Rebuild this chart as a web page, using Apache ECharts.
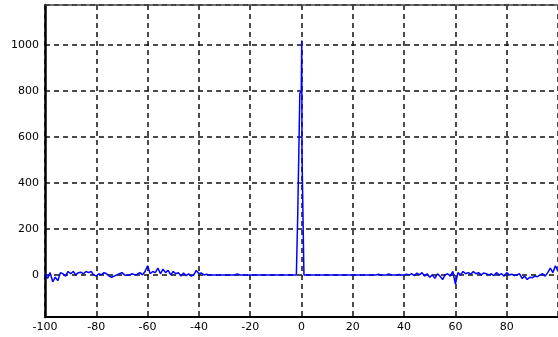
<!DOCTYPE html>
<html>
<head>
<meta charset="utf-8">
<script src="https://cdn.jsdelivr.net/npm/echarts@6/dist/echarts.min.js"></script>
<style>
html,body{margin:0;padding:0;background:#fff;}
#chart{width:558px;height:337px;}
</style>
</head>
<body>
<div id="chart"></div>
<script>
// x-axis tick labels / y-axis tick labels
const xTicks = [-100, -80, -60, -40, -20, 0, 20, 40, 60, 80];
const yTicks = [0, 200, 400, 600, 800, 1000];

// Signal samples, x = -100 .. -3 (step 1)
const leftX = [];
for (let x = -100; x <= -3; x++) leftX.push(x);
const leftY = [
  5, -15, 10, -30, -10, -25, 10, 5, -5, 15,      // -100..-91
  5, 15, 0, 10, 12, 5, 15, 10, 15, 0,            // -90..-81
  -5, 5, 0, 10, 5, -5, -10, -5, 0, 5,            // -80..-71
  10, 0, -2, 0, 5, 0, 3, 10, 0, 15,              // -70..-61
  40, 5, 15, 10, 30, 5, 25, 10, 20, 0,           // -60..-51
  15, 5, 10, -5, 8, -3, 5, -5, 0, 20,            // -50..-41
  5, 8, 0, 3, 0, 0, 0, 0, 0, 0,                  // -40..-31
  0, 0, 0, 0, 0, 4, 0, 0, 0, 0,                  // -30..-21
  0, 0, 0, 0, 0, 0, 0, 0, 0, 0,                  // -20..-11
  0, 0, 0, 0, 0, 0, 0, 0                         // -10..-3
];

// Central peak
const peakX = [-2, -1.5, -1.45, -0.7, -0.65, -0.1, 0.1, 0.2, 0.9, 0.95];
const peakY = [0, 0, 270, 270, 790, 800, 1020, 520, 520, 0];

// Signal samples, x = 2 .. 100 (step 1)
const rightX = [];
for (let x = 2; x <= 100; x++) rightX.push(x);
const rightY = [
  0, 0, 0, 0, 0, 0, 0, 0,                        // 2..9
  0, 0, 0, 0, 0, 0, 0, 0, 0, 0,                  // 10..19
  0, 0, 0, 0, 0, 0, 0, 0, 0, 0,                  // 20..29
  3, 0, 0, 0, 4, 0, 0, 0, 2, 0,                  // 30..39
  0, 3, 0, 5, -3, 8, 0, 10, -5, 5,               // 40..49
  -10, 0, -15, 5, -5, -20, 0, 5, -5, 15,         // 50..59
  -40, 10, 0, 15, 5, 10, 3, 15, 5, 10,           // 60..69
  0, 8, 5, 0, 5, -3, 10, 0, 5, -5,               // 70..79
  10, 0, 3, -3, 0, 5, -15, -5, -20, -10,         // 80..89
  -12, -5, -8, 0, 5, -5, 10, 30, 10, 40,         // 90..99
  15                                             // 100
];

const xs = leftX.concat(peakX, rightX);
const ys = leftY.concat(peakY, rightY);
const lineData = xs.map((x, i) => [x, ys[i]]);

const chart = echarts.init(document.getElementById('chart'));
const labelFont = {fontFamily: 'DejaVu Sans', fontSize: 11, color: '#000'};
chart.setOption({
  animation: false,
  backgroundColor: '#fff',
  grid: {left: 45, right: -2, top: 5, bottom: 20, containLabel: false},
  xAxis: [{
    type: 'value', min: -100, max: 100, interval: 20,
    axisLine: {show: true, onZero: false, lineStyle: {color: '#000', width: 2}},
    axisTick: {show: false},
    axisLabel: Object.assign({margin: 5, showMaxLabel: false,
      formatter: v => xTicks.indexOf(v) >= 0 ? String(v) : ''}, labelFont),
    splitLine: {show: true, lineStyle: {color: '#111', type: [5, 4], width: 1.5}}
  }, {
    type: 'value', min: -100, max: 100, interval: 20, position: 'top',
    axisLine: {show: true, onZero: false, lineStyle: {color: '#444', width: 1.5}},
    axisTick: {show: false}, axisLabel: {show: false}, splitLine: {show: false}
  }],
  yAxis: {
    type: 'value', min: -183, max: 1174, minInterval: 200, maxInterval: 200,
    axisLine: {show: true, onZero: false, lineStyle: {color: '#000', width: 2.5}},
    axisTick: {show: false},
    axisLabel: Object.assign({margin: 6, showMinLabel: false, showMaxLabel: false,
      formatter: v => yTicks.indexOf(v) >= 0 ? String(v) : ''}, labelFont),
    splitLine: {show: true, lineStyle: {color: '#111', type: [5, 4], width: 1.5}}
  },
  series: [{
    type: 'line', data: lineData, xAxisIndex: 0,
    showSymbol: false, symbol: 'none',
    lineStyle: {color: '#0000ff', width: 1.5},
    z: 5
  }]
});
</script>
</body>
</html>
